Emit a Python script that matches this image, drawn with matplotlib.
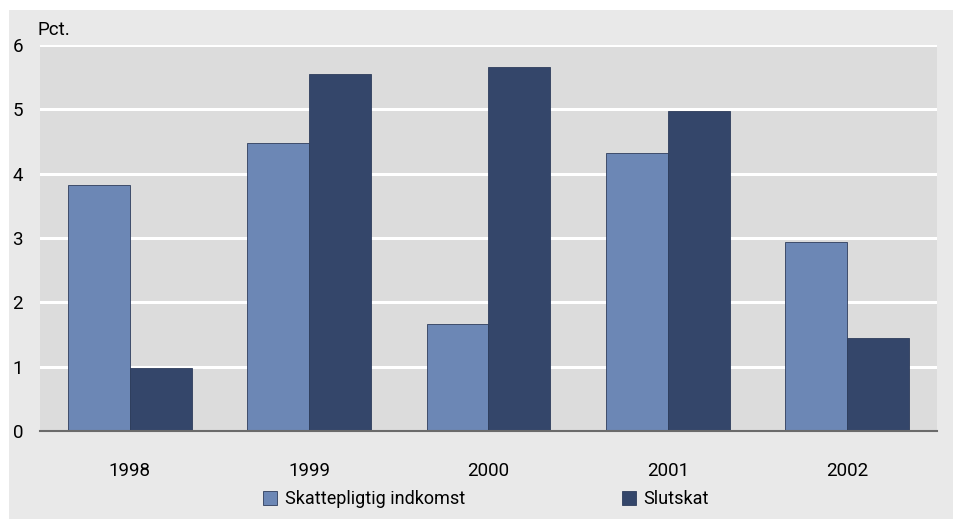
import matplotlib.pyplot as plt
import matplotlib.patches as mpatches
import numpy as np

years = ['1998', '1999', '2000', '2001', '2002']
skattepligtig = [3.83, 4.48, 1.66, 4.32, 2.94]
slutskat = [0.98, 5.55, 5.66, 4.98, 1.45]
labels = ['Skattepligtig indkomst', 'Slutskat']

c_light = '#6c87b5'
c_dark = '#34466a'

plt.rcParams['font.family'] = ['Roboto', 'DejaVu Sans']

W, H = 954, 519
fig = plt.figure(figsize=(W/100, H/100), dpi=100, facecolor='white')
# outer grey panel
fig.patches.append(mpatches.Rectangle((9/W, 0), 1 - 9/W, (H-10)/H, transform=fig.transFigure,
                                      facecolor='#e9e9e9', edgecolor='none', zorder=-5))

ax = fig.add_axes([40/W, (H-431)/H, 897/W, (431-45)/H])
ax.set_zorder(2)
ax.set_facecolor('#dcdcdc')
x = np.arange(len(years))
bw = 0.345
ax.bar(x - bw/2, skattepligtig, bw, color=c_light, edgecolor='#2e3d5c', linewidth=0.6, label=labels[0], zorder=3)
ax.bar(x + bw/2, slutskat, bw, color=c_dark, edgecolor='#2e3d5c', linewidth=0.6, label=labels[1], zorder=3)

ax.set_xlim(-0.5, len(years) - 0.5)
ax.set_ylim(0, 6)
ax.set_yticks(range(7))
ax.yaxis.grid(True, color='white', linewidth=2.2, zorder=1)
ax.set_axisbelow(True)
for s in ax.spines.values():
    s.set_visible(False)
ax.axhline(0, color='#6b6b6b', linewidth=1.5, zorder=4, clip_on=False)
ax.tick_params(axis='both', length=0, labelsize=13.5, colors='black')
ax.tick_params(axis='y', pad=16)
ax.tick_params(axis='x', pad=22)
ax.set_xticks(x)
ax.set_xticklabels(years)
for t in ax.get_yticklabels():
    t.set_horizontalalignment('center')

fig.text(38/W, 1 - 30/H, 'Pct.', fontsize=13.5, va='center', ha='left')

h = [mpatches.Patch(facecolor=c_light, edgecolor='#2e3d5c', linewidth=0.6),
     mpatches.Patch(facecolor=c_dark, edgecolor='#2e3d5c', linewidth=0.6)]
fig.legend(h, labels, loc='center', bbox_to_anchor=(486/W, 1 - 499/H), ncol=2, frameon=False,
           fontsize=13, handlelength=0.8, handleheight=0.8, handletextpad=0.4, columnspacing=8.7)

fig.savefig('out.png', dpi=100, facecolor='white')
